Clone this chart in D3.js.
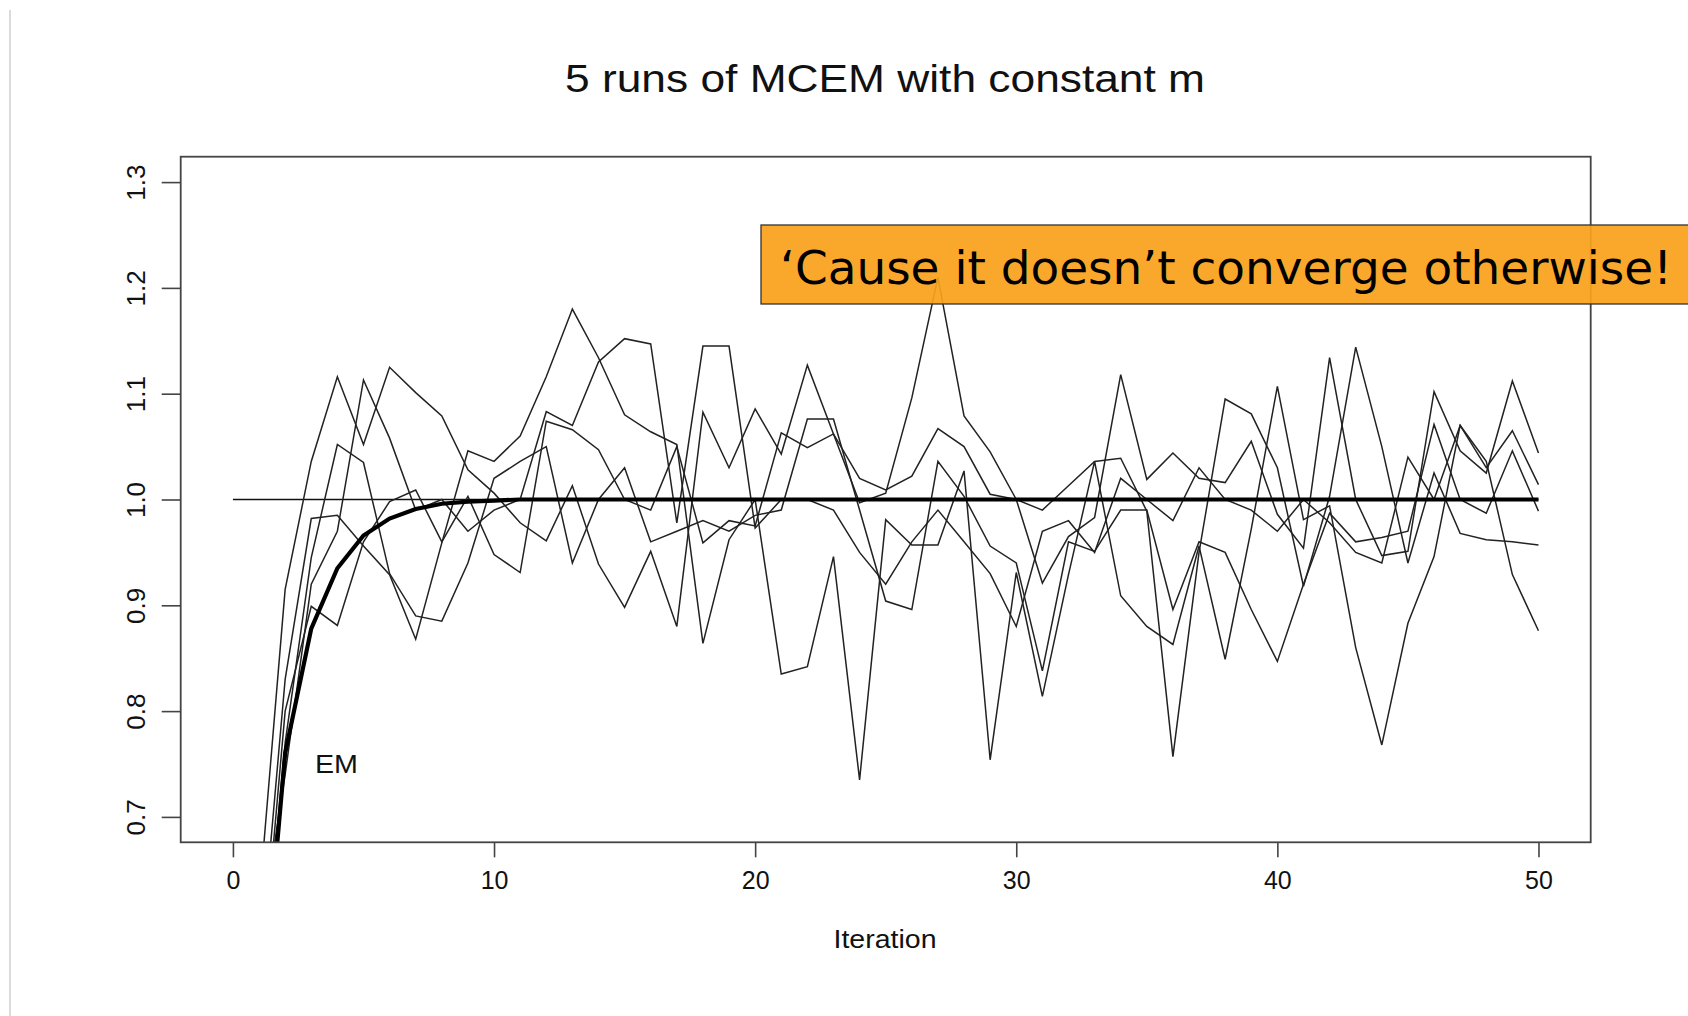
<!DOCTYPE html>
<html>
<head>
<meta charset="utf-8">
<script src="https://cdn.jsdelivr.net/npm/d3@7"></script>
<style>
  html, body { margin: 0; padding: 0; background: #fff; }
  svg { display: block; }
</style>
</head>
<body>
<svg id="chart" width="1688" height="1016"></svg>
<script>
// Iterations 1..50 for the Monte Carlo EM runs and the exact EM path
const iterations = d3.range(1, 51);

const run1 = [0.62, 0.915, 1.036, 1.116, 1.052, 1.125, 1.101, 1.079, 1.028, 1.006,
              0.978, 0.961, 1.013, 0.939, 0.898, 0.951, 0.880, 1.0825, 1.030, 1.0857,
              1.043, 1.127, 1.062, 0.997, 1.006, 1.096, 1.21, 1.079, 1.045, 1.0,
              0.921, 0.965, 0.983, 1.118, 1.019, 1.044, 1.02, 1.016, 1.055, 0.986,
              0.954, 1.134, 1.0, 0.947, 0.951, 1.102, 1.046, 1.025, 1.112, 1.044];
const run2 = [0.55, 0.83, 0.982, 0.985, 0.956, 0.929, 0.868, 0.959, 1.046, 1.036,
              1.06, 1.116, 1.18, 1.134, 1.080, 1.064, 1.052, 0.864, 0.962, 1.0,
              0.835, 0.842, 0.946, 0.735, 0.981, 0.957, 0.957, 1.027, 0.754, 0.931,
              0.814, 0.929, 1.036, 0.909, 0.880, 0.863, 0.956, 0.849, 0.972, 1.107,
              0.981, 0.994, 0.860, 0.768, 0.883, 0.946, 1.070, 1.036, 0.929, 0.876];
const run3 = [0.52, 0.80, 0.899, 0.881, 0.96, 0.998, 1.009, 0.96, 1.003, 0.948,
              0.931, 1.074, 1.066, 1.047, 1.0, 0.99, 1.05, 0.959, 0.98, 0.975,
              1.063, 1.049, 1.062, 1.02, 1.009, 1.022, 1.067, 1.05, 1.005, 1.0,
              0.99, 1.013, 1.036, 1.039, 0.989, 0.757, 0.95, 1.095, 1.081, 1.03,
              0.918, 1.003, 1.144, 1.05, 0.94, 1.025, 0.968, 0.962, 0.96, 0.957];
const run4 = [0.50, 0.77, 0.945, 1.052, 1.035, 0.93, 0.89, 0.885, 0.94, 1.02,
              1.036, 1.05, 0.94, 1.0, 1.03, 0.96, 0.97, 0.98, 0.97, 0.985,
              0.99, 1.076, 1.076, 0.99, 0.904, 0.896, 1.036, 1.003, 0.956, 0.94,
              0.838, 0.96, 0.951, 0.99, 0.99, 0.896, 0.96, 0.95, 0.896, 0.847,
              0.92, 0.987, 0.96, 0.964, 0.970, 1.071, 1.0, 0.987, 1.046, 0.989];
const run5 = [0.58, 0.74, 0.92, 0.97, 1.113, 1.058, 0.99, 1.0, 0.97, 0.99,
              1.0, 1.083, 1.07, 1.13, 1.152, 1.147, 0.978, 1.145, 1.145, 0.973,
              1.0, 1.0, 0.99, 0.95, 0.92, 0.96, 0.99, 0.96, 0.93, 0.88,
              0.97, 0.98, 0.95, 1.02, 1.0, 0.98, 1.03, 1.0, 0.99, 0.97,
              1.0, 0.978, 0.95, 0.94, 1.04, 1.0, 1.07, 1.03, 1.065, 1.014];
const emPath = [0.48, 0.76, 0.878, 0.935, 0.966, 0.982, 0.991, 0.996, 0.998, 0.999,
                1.0, 1.0, 1.0, 1.0, 1.0, 1.0, 1.0, 1.0, 1.0, 1.0,
                1.0, 1.0, 1.0, 1.0, 1.0, 1.0, 1.0, 1.0, 1.0, 1.0,
                1.0, 1.0, 1.0, 1.0, 1.0, 1.0, 1.0, 1.0, 1.0, 1.0,
                1.0, 1.0, 1.0, 1.0, 1.0, 1.0, 1.0, 1.0, 1.0, 1.0];
const mcemRuns = [run1, run2, run3, run4, run5];

const xTicks = [0, 10, 20, 30, 40, 50];
const yTicks = [0.7, 0.8, 0.9, 1.0, 1.1, 1.2, 1.3];
const targetValue = 1.0;

const titleText = "5 runs of MCEM with constant m";
const xLabel = "Iteration";
const emLabel = "EM";
const calloutText = "\u2018Cause it doesn\u2019t converge otherwise!";

const sans = "'Liberation Sans', Arial, Helvetica, sans-serif";

// ---- layout ----
const svg = d3.select("#chart");
const plot = { left: 180.7, right: 1590.7, top: 156.7, bottom: 842.3 };

const x = d3.scaleLinear().domain([-2, 52]).range([plot.left, plot.right]);
const y = d3.scaleLinear().domain([0.676, 1.324]).range([plot.bottom, plot.top]);

svg.append("rect").attr("width", 1688).attr("height", 1016).attr("fill", "#fff");

// slide edge on the left
svg.append("line")
  .attr("x1", 10).attr("x2", 10).attr("y1", 10).attr("y2", 1016)
  .attr("stroke", "#cfcfcf").attr("stroke-width", 1.5);

svg.append("clipPath").attr("id", "plotClip")
  .append("rect")
  .attr("x", plot.left).attr("y", plot.top)
  .attr("width", plot.right - plot.left).attr("height", plot.bottom - plot.top);

const inner = svg.append("g").attr("clip-path", "url(#plotClip)");

// reference level
inner.append("line")
  .attr("x1", x(0)).attr("x2", x(50))
  .attr("y1", y(targetValue)).attr("y2", y(targetValue))
  .attr("stroke", "#111").attr("stroke-width", 1.3);

const line = d3.line()
  .x((d, i) => x(iterations[i]))
  .y(d => y(d));

inner.selectAll("path.run")
  .data(mcemRuns)
  .join("path")
  .attr("class", "run")
  .attr("d", line)
  .attr("fill", "none")
  .attr("stroke", "#222")
  .attr("stroke-width", 1.5)
  .attr("stroke-linejoin", "miter");

inner.append("path")
  .datum(emPath)
  .attr("d", line)
  .attr("fill", "none")
  .attr("stroke", "#000")
  .attr("stroke-width", 4.2);

// frame
svg.append("rect")
  .attr("x", plot.left).attr("y", plot.top)
  .attr("width", plot.right - plot.left).attr("height", plot.bottom - plot.top)
  .attr("fill", "none").attr("stroke", "#444").attr("stroke-width", 1.8);

// axes
const xAxis = d3.axisBottom(x).tickValues(xTicks).tickSize(15).tickPadding(14)
  .tickFormat(d3.format("d"));
const gx = svg.append("g").attr("transform", `translate(0,${plot.bottom})`).call(xAxis);
gx.select(".domain").remove();
gx.selectAll(".tick line").attr("stroke", "#444").attr("stroke-width", 1.6);
gx.selectAll(".tick text")
  .style("font-family", sans)
  .style("font-size", "25px").attr("fill", "#111");

const yAxis = d3.axisLeft(y).tickValues(yTicks).tickSize(19).tickPadding(0)
  .tickFormat(d3.format(".1f"));
const gy = svg.append("g").attr("transform", `translate(${plot.left},0)`).call(yAxis);
gy.select(".domain").remove();
gy.selectAll(".tick line").attr("stroke", "#444").attr("stroke-width", 1.6);
gy.selectAll(".tick text")
  .style("font-family", sans)
  .style("font-size", "26px").attr("fill", "#111")
  .attr("x", 0).attr("y", 0).attr("dy", 0)
  .attr("text-anchor", "middle")
  .attr("transform", "translate(-45,0) rotate(-90)")
  .attr("dominant-baseline", "central");

// titles and labels
svg.append("text")
  .attr("x", 885).attr("y", 92)
  .attr("text-anchor", "middle")
  .style("font-family", sans).style("font-size", "38px").attr("fill", "#111")
  .attr("textLength", 640).attr("lengthAdjust", "spacingAndGlyphs")
  .text(titleText);

svg.append("text")
  .attr("x", 885).attr("y", 948)
  .attr("text-anchor", "middle")
  .style("font-family", sans).style("font-size", "26px").attr("fill", "#111")
  .attr("textLength", 103).attr("lengthAdjust", "spacingAndGlyphs")
  .text(xLabel);

svg.append("text")
  .attr("x", 315).attr("y", 773)
  .style("font-family", sans).style("font-size", "25px").attr("fill", "#111")
  .attr("textLength", 43).attr("lengthAdjust", "spacingAndGlyphs")
  .text(emLabel);

// callout
const callout = svg.append("g");
callout.append("rect")
  .attr("x", 761).attr("y", 225).attr("width", 1000).attr("height", 79)
  .attr("fill", "#f9a11b").attr("fill-opacity", 0.93)
  .attr("stroke", "#333").attr("stroke-width", 1.3);
callout.append("text")
  .attr("x", 780).attr("y", 284)
  .style("font-family", "'DejaVu Sans', Verdana, sans-serif")
  .style("font-size", "46px")
  .attr("textLength", 892).attr("lengthAdjust", "spacingAndGlyphs")
  .attr("fill", "#000")
  .text(calloutText);
</script>
</body>
</html>
